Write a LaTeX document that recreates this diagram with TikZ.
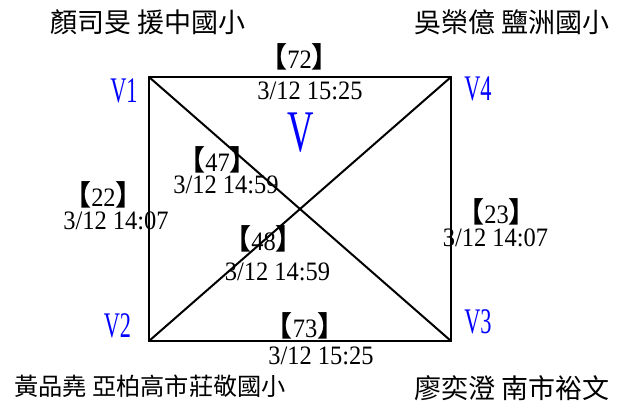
\documentclass[tikz,border=0pt]{standalone}
\usepackage{fontspec}
\setmainfont{Liberation Serif}
\newfontfamily\cjk{Noto Sans CJK TC}
\newfontfamily\numfont[FakeStretch=0.92]{Liberation Serif}
\newfontfamily\vfont[FakeStretch=0.62]{Liberation Serif}
\newcommand{\lb}[1]{\smash{{\cjk\bfseries\fontsize{28}{30}\selectfont\raisebox{1pt}{【}}}#1\smash{{\cjk\bfseries\fontsize{28}{30}\selectfont\raisebox{1pt}{】}}}}
\begin{document}
\begin{tikzpicture}[x=1pt,y=-1pt,
  person/.style={font=\cjk\fontsize{27}{30}\selectfont, inner sep=0pt},
  vlab/.style={text=blue, font=\vfont\fontsize{36}{40}\selectfont, inner sep=0pt},
  bigv/.style={text=blue, font=\vfont\fontsize{59}{62}\selectfont, inner sep=0pt},
  num/.style={font=\numfont\fontsize{26.6}{30}\selectfont, inner sep=0pt},
  edge/.style={line width=2pt, line cap=round}]
\useasboundingbox (0,0) rectangle (627,403);
\coordinate (V1) at (149,77);
\coordinate (V4) at (451,77);
\coordinate (V2) at (149,341);
\coordinate (V3) at (451,341);
\draw[edge] (V1) -- (V4) -- (V3) -- (V2) -- cycle;
\draw[edge] (V1) -- (V3);
\draw[edge] (V2) -- (V4);
% vertex labels
\node[vlab] (l1) at (124,90.5) {V1};
\node[vlab] (l4) at (478,88.5) {V4};
\node[vlab] (l2) at (117.5,326) {V2};
\node[vlab] (l3) at (478,321.5) {V3};
\node[bigv] (bv) at (300.5,132.5) {V};
% people
\node[person] (p1) at (148,22) {顏司旻 援中國小};
\node[person] (p4) at (512,22) {吳榮億 鹽洲國小};
\node[person, font=\cjk\fontsize{24.2}{28}\selectfont] (p2) at (150,386) {黃品堯 亞柏高市莊敬國小};
\node[person] (p3) at (512,388) {廖奕澄 南市裕文};
% edge labels
\node[num] (e72) at (299.5,60) {\lb{72}};
\node[num] (t72) at (310,91) {3/12 15:25};
\node[num] (e47) at (217.5,162.5) {\lb{47}};
\node[num] (t47) at (226,184.5) {3/12 14:59};
\node[num] (e22) at (103.5,198) {\lb{22}};
\node[num] (t22) at (116,221) {3/12 14:07};
\node[num] (e48) at (263.5,241.5) {\lb{48}};
\node[num] (t48) at (277.5,272) {3/12 14:59};
\node[num] (e23) at (496.5,215) {\lb{23}};
\node[num] (t23) at (495.5,238) {3/12 14:07};
\node[num] (e73) at (305,329) {\lb{73}};
\node[num] (t73) at (321,356) {3/12 15:25};
\end{tikzpicture}
\end{document}
